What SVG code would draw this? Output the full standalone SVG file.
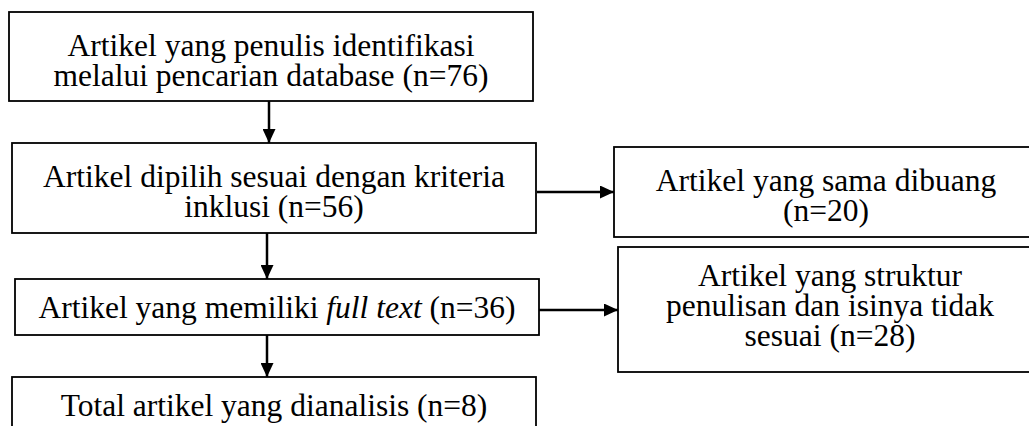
<svg xmlns="http://www.w3.org/2000/svg" width="1029" height="426" viewBox="0 0 1029 426">
<style>
.box{fill:#fff;stroke:#000;stroke-width:1.8}
.t{font-family:"Liberation Serif","Times New Roman",serif;font-size:31.5px;fill:#000;text-anchor:middle}
.c{stroke:#000;stroke-width:2.5;fill:none}
</style>
<defs>
<marker id="ah" viewBox="0 0 10 10" refX="10" refY="5" markerWidth="14" markerHeight="13" markerUnits="userSpaceOnUse" orient="auto" preserveAspectRatio="none">
<path d="M0,0 L10,5 L0,10 Z" fill="#000"/>
</marker>
</defs>
<rect width="1029" height="426" fill="#fff"/>
<g id="connectors">
<line class="c" x1="269" y1="101" x2="269" y2="143" marker-end="url(#ah)"/>
<line class="c" x1="267" y1="233" x2="267" y2="279" marker-end="url(#ah)"/>
<line class="c" x1="267" y1="335" x2="267" y2="377" marker-end="url(#ah)"/>
<line class="c" x1="537" y1="192" x2="614" y2="192" marker-end="url(#ah)"/>
<line class="c" x1="539" y1="310" x2="618" y2="310" marker-end="url(#ah)"/>
</g>
<g id="n1">
<rect class="box" x="9" y="12" width="524" height="89"/>
<text class="t" x="271" y="56">Artikel yang penulis identifikasi</text>
<text class="t" x="271" y="86">melalui pencarian database (n=76)</text>
</g>
<g id="n2">
<rect class="box" x="12" y="143" width="524" height="90"/>
<text class="t" x="274" y="187">Artikel dipilih sesuai dengan kriteria</text>
<text class="t" x="274" y="217">inklusi (n=56)</text>
</g>
<g id="n3">
<rect class="box" x="614" y="147" width="430" height="90"/>
<text class="t" x="826" y="191">Artikel yang sama dibuang</text>
<text class="t" x="826" y="221">(n=20)</text>
</g>
<g id="n4">
<rect class="box" x="15" y="279" width="524" height="56"/>
<text class="t" x="277" y="318">Artikel yang memiliki <tspan font-style="italic">full text</tspan> (n=36)</text>
</g>
<g id="n5">
<rect class="box" x="618" y="247" width="430" height="125"/>
<text class="t" x="830" y="286">Artikel yang struktur</text>
<text class="t" x="830" y="316">penulisan dan isinya tidak</text>
<text class="t" x="830" y="346">sesuai (n=28)</text>
</g>
<g id="n6">
<rect class="box" x="12" y="377" width="524" height="70"/>
<text class="t" x="274" y="416">Total artikel yang dianalisis (n=8)</text>
</g>
</svg>
